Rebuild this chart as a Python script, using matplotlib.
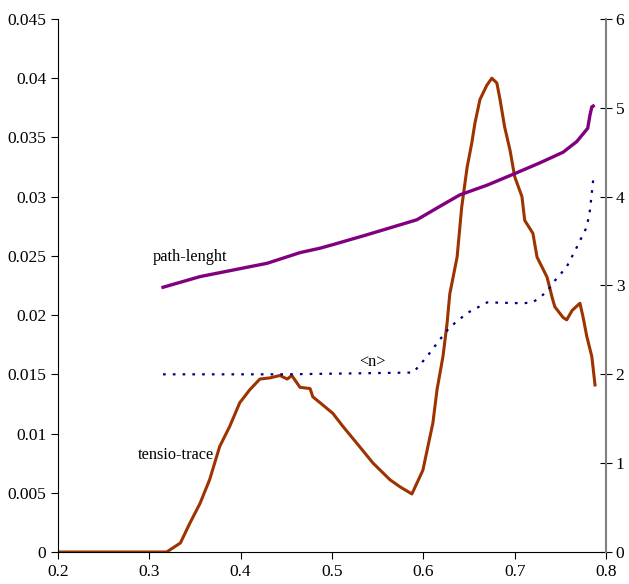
import matplotlib.pyplot as plt

plt.rcParams["font.family"] = ["Liberation Serif", "DejaVu Serif"]

# tensio-trace (left axis)
tensio_x = [0.2, 0.25, 0.30, 0.319, 0.334, 0.3445, 0.3555, 0.366, 0.377, 0.388, 0.399, 0.41,
            0.421, 0.432, 0.443, 0.451, 0.456, 0.465, 0.476, 0.479, 0.487, 0.501, 0.512,
            0.527, 0.545, 0.5635, 0.5745, 0.5875, 0.5995, 0.6105, 0.615, 0.6215, 0.626,
            0.629, 0.637, 0.642, 0.648, 0.653, 0.6565, 0.662, 0.6695, 0.675, 0.6805, 0.684,
            0.689, 0.695, 0.700, 0.708, 0.711, 0.720, 0.7245, 0.7355, 0.741, 0.744, 0.753,
            0.757, 0.763, 0.7715, 0.775, 0.779, 0.7845, 0.788]
tensio_y = [0.0, 0.0, 0.0, 0.0, 0.00076, 0.00245, 0.0041, 0.0061, 0.0089, 0.0106, 0.0126, 0.0137,
            0.0146, 0.0147, 0.0149, 0.0146, 0.0149, 0.0139, 0.0138, 0.0131, 0.0126, 0.0117, 0.0106,
            0.0092, 0.0075, 0.0061, 0.0055, 0.0049, 0.0069, 0.0109, 0.0137, 0.0165, 0.0193,
            0.0218, 0.0249, 0.0291, 0.0325, 0.0345, 0.0362, 0.0382, 0.0394, 0.0400, 0.0396, 0.0382,
            0.0359, 0.0339, 0.0317, 0.0300, 0.0280, 0.0269, 0.0249, 0.0232, 0.0215, 0.0207, 0.0198,
            0.0196, 0.0204, 0.0210, 0.0198, 0.0182, 0.0165, 0.0141]

# path-lenght (right axis)
path_x = [0.315, 0.3555, 0.429, 0.465, 0.487, 0.501, 0.538, 0.593, 0.618, 0.640, 0.670,
          0.7025, 0.7275, 0.753, 0.768, 0.780, 0.7825, 0.7845, 0.786]
path_y = [2.98, 3.10, 3.25, 3.37, 3.42, 3.46, 3.57, 3.74, 3.89, 4.02, 4.13,
          4.27, 4.38, 4.50, 4.62, 4.77, 4.92, 5.01, 5.02]

# <n> (right axis)
n_x = [0.315, 0.45, 0.589, 0.604, 0.618, 0.629, 0.648, 0.670, 0.709, 0.720, 0.7355,
       0.742, 0.757, 0.768, 0.779, 0.7825, 0.786]
n_y = [2.0, 2.0, 2.02, 2.2, 2.39, 2.53, 2.69, 2.81, 2.80, 2.81, 2.93,
       3.03, 3.21, 3.43, 3.66, 3.85, 4.19]

fig = plt.figure(figsize=(6.29, 5.84), dpi=100)
ax = fig.add_axes([0.0922, 0.0548, 0.8712, 0.9127])
ax2 = ax.twinx()

ax.plot(tensio_x, tensio_y, color="#9C3300", lw=2.2)
ax2.plot(path_x, path_y, color="#800080", lw=2.4)
ax2.plot(n_x, n_y, color="#000080", lw=1.6, linestyle=(0, (1.2, 3.2)))

ax.set_xlim(0.2, 0.8)
ax.set_ylim(0, 0.045)
ax2.set_ylim(0, 6)
ax.set_xticks([0.2, 0.3, 0.4, 0.5, 0.6, 0.7, 0.8])
ax.set_xticklabels(["0.2", "0.3", "0.4", "0.5", "0.6", "0.7", "0.8"])
ax.set_yticks([0, 0.005, 0.01, 0.015, 0.02, 0.025, 0.03, 0.035, 0.04, 0.045])
ax.set_yticklabels(["0", "0.005", "0.01", "0.015", "0.02", "0.025", "0.03", "0.035", "0.04", "0.045"])
ax2.set_yticks([0, 1, 2, 3, 4, 5, 6])

for a in (ax, ax2):
    a.spines["top"].set_visible(False)
ax.spines["right"].set_visible(False)
ax2.spines["left"].set_visible(False)
ax2.spines["bottom"].set_visible(False)
ax2.spines["right"].set_color("#808080")
ax2.spines["right"].set_linewidth(1.5)

ax.tick_params(axis="both", labelsize=12.5, length=5, direction="out")
ax2.tick_params(axis="y", labelsize=12.5, length=8, direction="inout", pad=3)

ax.text(0.3445, 0.0249, "path-lenght", fontsize=11.7, ha="center", va="center")
ax.text(0.329, 0.0082, "tensio-trace", fontsize=11.7, ha="center", va="center")
ax.text(0.544, 0.0160, "<n>", fontsize=11.7, ha="center", va="center")

fig.savefig("out.png", dpi=100)
